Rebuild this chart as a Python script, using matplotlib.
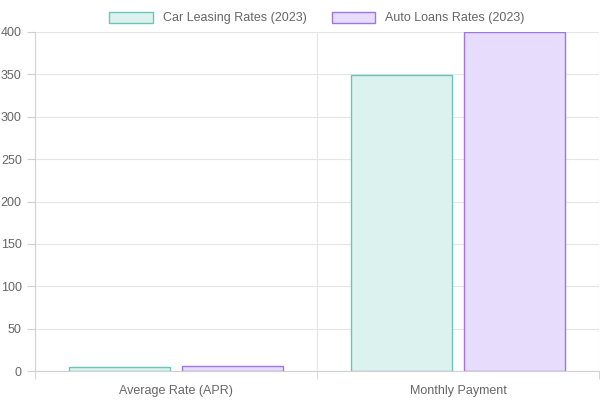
import numpy as np
import matplotlib.pyplot as plt

categories = ['Average Rate (APR)', 'Monthly Payment']
leasing = [4.5, 349]
loans = [6, 400]

plt.rcParams['font.family'] = ['Liberation Sans', 'DejaVu Sans']
fig = plt.figure(figsize=(6, 4), dpi=100)
ax = fig.add_axes([35/600, 1-371/400, 564/600, 339/400])
x = np.arange(len(categories))
ax.bar(x - 0.2, leasing, 0.358, color='#dcf2ef', edgecolor='#6cc5b9', linewidth=1, label='Car Leasing Rates (2023)')
ax.bar(x + 0.2, loans, 0.358, color='#e8dcfd', edgecolor='#9d75e6', linewidth=1, label='Auto Loans Rates (2023)')
ax.set_xlim(-0.5, 1.5)
ax.set_ylim(0, 400)
ax.set_yticks(np.arange(0, 401, 50))
ax.set_xticks(x, categories)
ax.set_xticks([-0.5, 0.5, 1.5], minor=True)
ax.grid(True, which='minor', axis='x', color='#e5e5e5', linewidth=0.8)
ax.grid(True, which='major', axis='y', color='#e5e5e5', linewidth=0.8)
ax.set_axisbelow(True)
for s in ['top', 'right']:
    ax.spines[s].set_visible(False)
for s in ['left', 'bottom']:
    ax.spines[s].set_color('#d0d0d0')
ax.tick_params(which='both', colors='#d0d0d0', labelcolor='#666666', labelsize=9, length=6)
ax.tick_params(axis='x', which='major', length=0, pad=10)
ax.legend(loc='lower center', bbox_to_anchor=(0.5, 1.0), ncols=2, frameon=False, fontsize=9,
          handlelength=3.5, handleheight=1, labelcolor='#666666', borderaxespad=0.2)
fig.savefig('out.png')
